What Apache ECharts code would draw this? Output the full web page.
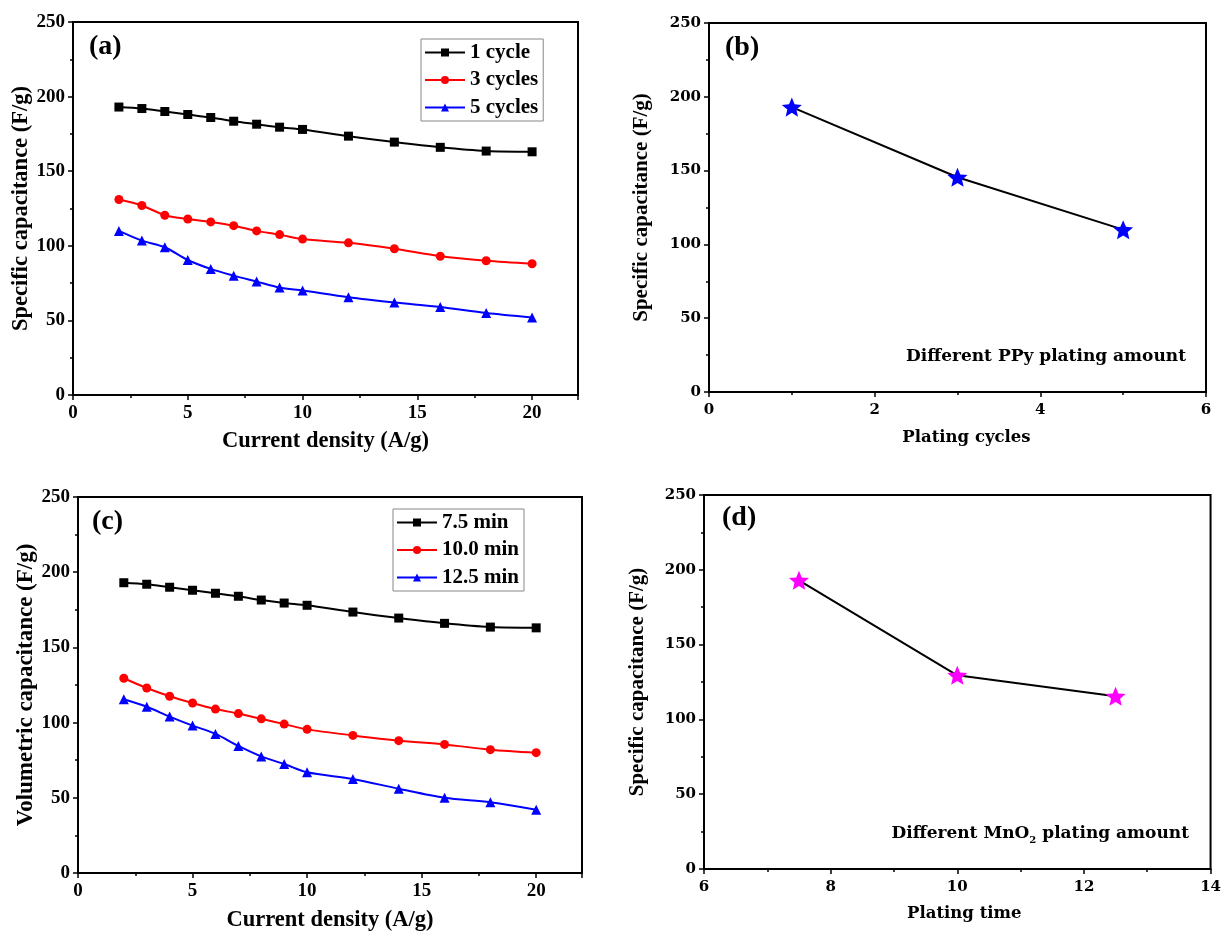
<!DOCTYPE html>
<html>
<head>
<meta charset="utf-8">
<script src="https://cdn.jsdelivr.net/npm/echarts@6/dist/echarts.min.js"></script>
<style>
  html, body { margin: 0; padding: 0; background: #fff; }
  #chart { width: 1224px; height: 933px; }
</style>
</head>
<body>
<div id="chart"></div>
<script>
// Current densities (A/g) used in the rate tests
const currentDensity = [2, 3, 4, 5, 6, 7, 8, 9, 10, 12, 14, 16, 18, 20];

// (a) PPy plating cycles
const cap1Cycle  = [193, 192, 190, 188, 186, 183.5, 181.5, 179.5, 178, 173.5, 169.5, 166, 163.5, 163];
const cap3Cycles = [131, 127, 120.5, 118, 116, 113.5, 110, 107.5, 104.5, 102, 98, 93, 90, 88];
const cap5Cycles = [110, 103.5, 99, 90.5, 84.5, 80, 76, 72, 70, 65.5, 62, 59, 55, 52];

// (c) MnO2 plating time
const cap75min  = [193, 192, 190, 188, 186, 184, 181.5, 179.5, 178, 173.5, 169.5, 166, 163.5, 163];
const cap100min = [129.5, 123, 117.5, 113, 109, 106, 102.5, 99, 95.5, 91.5, 88, 85.5, 82, 80];
const cap125min = [115.5, 110.5, 104, 98, 92.5, 84.5, 77.5, 72.5, 67, 62.5, 56, 50, 47, 42];

// (b) capacitance vs plating cycles
const platingCycles = [1, 3, 5];
const capByCycles   = [193, 145.5, 110];

// (d) capacitance vs plating time
const platingTime = [7.5, 10, 12.5];
const capByTime   = [193, 129.5, 115.5];

const yTicks = { min: 0, max: 250, interval: 50 };

const SERIF = 'Liberation Serif';
const WIDE_SERIF = 'DejaVu Serif';
const STAR = 'path://M50 0 L63.23 31.8 L97.55 34.55 L71.4 56.95 L79.39 90.45 L50 72.5 L20.61 90.45 L28.6 56.95 L2.45 34.55 L36.77 31.8 Z';

const zip = (xs, ys) => xs.map((x, i) => [x, ys[i]]);

const grids = [
  { left: 73,  top: 22,  width: 505, height: 373 },
  { left: 709, top: 23,  width: 497, height: 369 },
  { left: 78,  top: 497, width: 504, height: 376 },
  { left: 704, top: 495, width: 508, height: 374 }
].map(g => Object.assign({ show: true, borderColor: '#000', borderWidth: 2, backgroundColor: '#fff' }, g));

function axisCommon(font, labelSize, margin) {
  return {
    axisLine: { show: true, onZero: false, lineStyle: { color: '#000', width: 2 } },
    axisTick: { show: true, length: 5, lineStyle: { color: '#000', width: 1.5 } },
    minorTick: { show: true, splitNumber: 2, length: 3, lineStyle: { color: '#000', width: 1.5 } },
    splitLine: { show: false },
    axisLabel: { color: '#000', fontFamily: font, fontWeight: 'bold', fontSize: labelSize, margin, showMaxLabel: true }
  };
}

function xAxis(idx, min, max, interval, name, font, labelSize, nameSize, nameGap, hideMax, namePad) {
  const a = axisCommon(font, labelSize, font === SERIF ? 9 : 11);
  a.axisLabel.showMaxLabel = !hideMax;
  return Object.assign(a, {
    type: 'value', gridIndex: idx, min, max, interval,
    name, nameLocation: 'middle', nameGap,
    nameTextStyle: { color: '#000', fontFamily: font, fontWeight: 'bold', fontSize: nameSize, padding: namePad || 0 }
  });
}

function yAxis(idx, name, font, labelSize, nameSize, nameGap) {
  const a = axisCommon(font, labelSize, 8);
  return Object.assign(a, {
    type: 'value', gridIndex: idx, min: yTicks.min, max: yTicks.max, interval: yTicks.interval,
    name, nameLocation: 'middle', nameGap,
    nameTextStyle: { color: '#000', fontFamily: SERIF, fontWeight: 'bold', fontSize: nameSize }
  });
}

function rateSeries(name, values, color, symbol, size, idx) {
  return {
    type: 'line', name, xAxisIndex: idx, yAxisIndex: idx,
    data: zip(currentDensity, values),
    smooth: 0.3, symbol, symbolSize: size,
    lineStyle: { color, width: 2 }, itemStyle: { color },
    z: 3
  };
}

function trendSeries(xs, ys, starColor, idx) {
  return [
    {
      type: 'line', xAxisIndex: idx, yAxisIndex: idx, data: zip(xs, ys),
      symbol: 'none', lineStyle: { color: '#000', width: 2 }, z: 2
    },
    {
      type: 'scatter', xAxisIndex: idx, yAxisIndex: idx, data: zip(xs, ys),
      symbol: STAR, symbolSize: 20, symbolKeepAspect: true,
      itemStyle: { color: starColor, opacity: 1 }, z: 3
    }
  ];
}

function legendBox(left, top, names) {
  return {
    orient: 'vertical', left, top, data: names,
    itemWidth: 40, itemHeight: 10, itemGap: 6.5,
    padding: [3, 5, 3, 3],
    borderColor: '#888', borderWidth: 1, backgroundColor: '#fff',
    selectedMode: false,
    textStyle: { color: '#000', fontFamily: SERIF, fontWeight: 'bold', fontSize: 21, lineHeight: 21 }
  };
}

function panelLabel(text, left, top) {
  return {
    type: 'text', left, top, z: 10,
    style: { text, fill: '#000', font: 'bold 28px "' + SERIF + '"' }
  };
}

const option = {
  animation: false,
  backgroundColor: '#fff',
  grid: grids,
  xAxis: [
    xAxis(0, 0, 22, 5, 'Current density (A/g)', SERIF, 19, 22.5, 35, true),
    xAxis(1, 0, 6, 2, 'Plating cycles', WIDE_SERIF, 15, 16.5, 37, false, [0, 0, 0, 18]),
    xAxis(2, 0, 22, 5, 'Current density (A/g)', SERIF, 19, 22.5, 36, true),
    xAxis(3, 6, 14, 2, 'Plating time', WIDE_SERIF, 15, 16.5, 36, false, [0, 0, 0, 14])
  ],
  yAxis: [
    yAxis(0, 'Specific capacitance (F/g)', SERIF, 19, 22.5, 31),
    yAxis(1, 'Specific capacitance (F/g)', WIDE_SERIF, 15, 21, 57),
    yAxis(2, 'Volumetric capacitance (F/g)', SERIF, 19, 23, 39),
    yAxis(3, 'Specific capacitance (F/g)', WIDE_SERIF, 15, 21, 56)
  ],
  legend: [
    legendBox(421, 39, ['1 cycle', '3 cycles', '5 cycles']),
    legendBox(393, 509, ['7.5 min', '10.0 min', '12.5 min'])
  ],
  series: [
    rateSeries('1 cycle',  cap1Cycle,  '#000000', 'rect', 9, 0),
    rateSeries('3 cycles', cap3Cycles, '#ff0000', 'circle', 9, 0),
    rateSeries('5 cycles', cap5Cycles, '#0000ff', 'triangle', 10, 0),
    rateSeries('7.5 min',  cap75min,  '#000000', 'rect', 9, 2),
    rateSeries('10.0 min', cap100min, '#ff0000', 'circle', 9, 2),
    rateSeries('12.5 min', cap125min, '#0000ff', 'triangle', 10, 2),
    ...trendSeries(platingCycles, capByCycles, '#0000ff', 1),
    ...trendSeries(platingTime, capByTime, '#ff00ff', 3)
  ],
  graphic: [
    panelLabel('(a)', 89, 33),
    panelLabel('(b)', 725, 34),
    panelLabel('(c)', 92, 508),
    panelLabel('(d)', 722, 504),
    {
      type: 'text', right: 1224 - 1186, top: 348, z: 10,
      style: { text: 'Different PPy plating amount', fill: '#000', font: 'bold 17px "' + WIDE_SERIF + '"' }
    },
    {
      type: 'text', right: 1224 - 1189, top: 825, z: 10,
      style: {
        text: '{t|Different MnO}{s|2}{t| plating amount}',
        rich: {
          t: { fill: '#000', font: 'bold 17px "' + WIDE_SERIF + '"', verticalAlign: 'bottom' },
          s: { fill: '#000', font: 'bold 10px "' + WIDE_SERIF + '"', verticalAlign: 'bottom', padding: [0, 0, -3, 0] }
        }
      }
    }
  ]
};

const chart = echarts.init(document.getElementById('chart'), null, { renderer: 'canvas' });
chart.setOption(option);
</script>
</body>
</html>
